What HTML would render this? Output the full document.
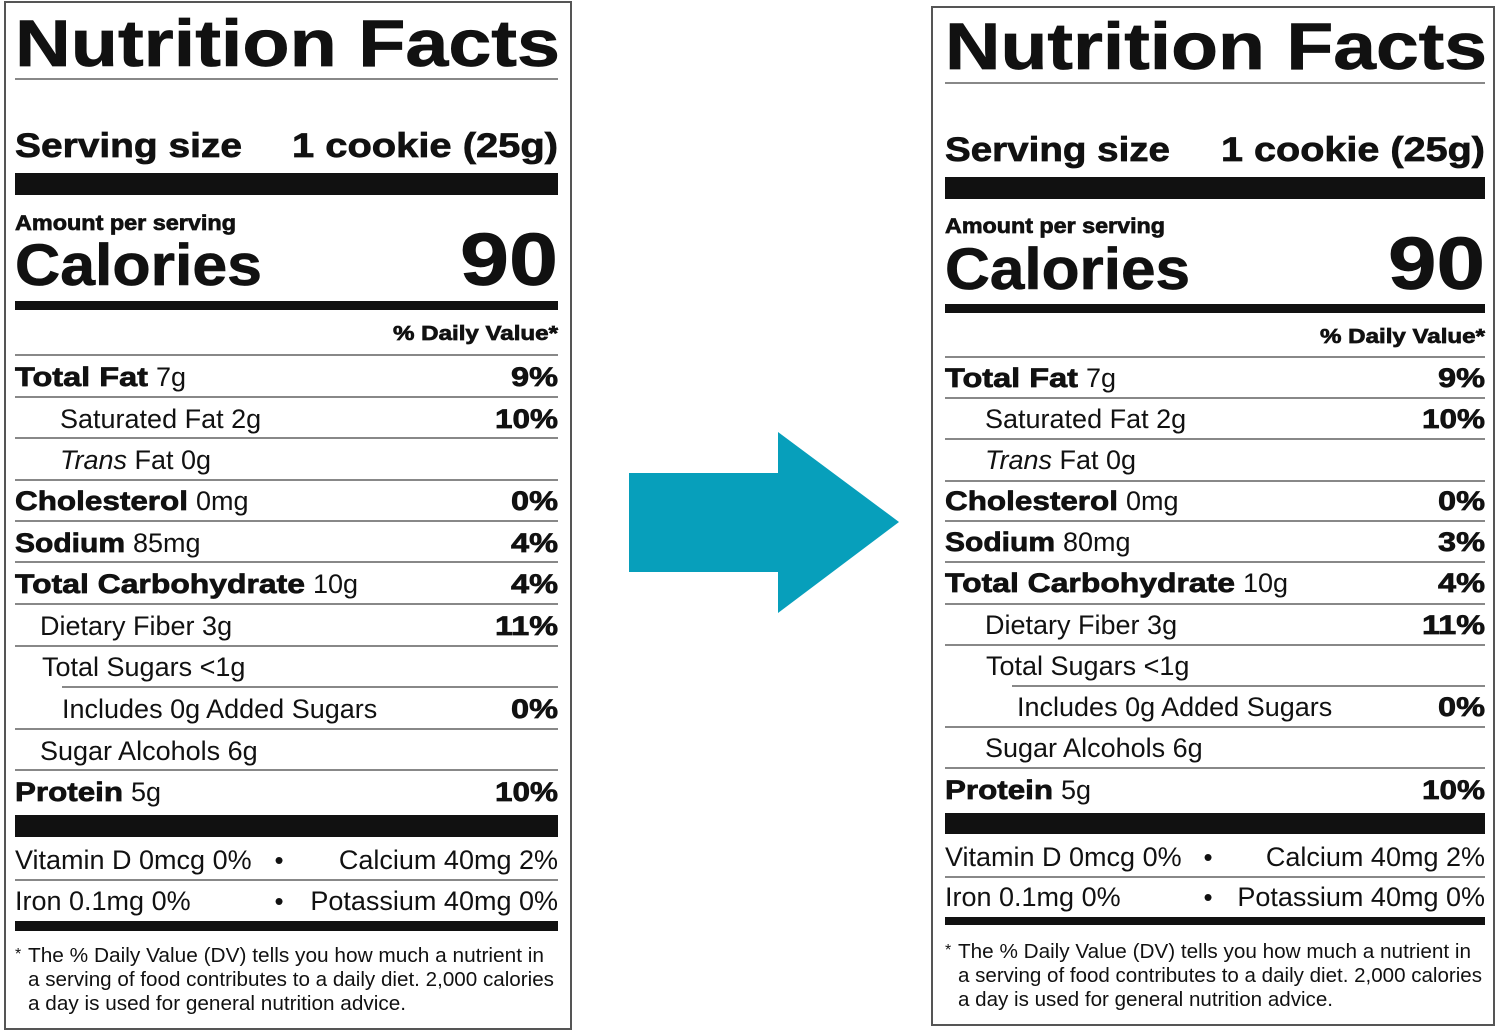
<!DOCTYPE html>
<html><head><meta charset="utf-8"><style>
html,body{margin:0;padding:0;background:#fff;width:1500px;height:1032px;overflow:hidden}
svg{display:block}
text{font-family:"Liberation Sans",Arial,sans-serif;fill:#111}
.b{font-weight:bold;stroke:#111;stroke-width:0.7}
</style></head><body>
<svg id="s" width="1500" height="1032" viewBox="0 0 1500 1032" xmlns="http://www.w3.org/2000/svg">
<polygon points="629,473 778,473 778,432 899,522 778,613 778,572 629,572" fill="#079fbb"/>
</svg>
<script>
const NS='http://www.w3.org/2000/svg';
const svg=document.getElementById('s');
const rowLabels=['Total Fat','Saturated Fat','Trans','Cholesterol','Sodium','Total Carbohydrate','Dietary Fiber','Total Sugars','Includes','Sugar Alcohols','Protein'];
const leftAmounts=['7g','2g','0g','0mg','85mg','10g','3g','<1g','0g Added Sugars','6g','5g'];
const leftDV=['9%','10%','','0%','4%','4%','11%','','0%','','10%'];
const rightAmounts=['7g','2g','0g','0mg','80mg','10g','3g','<1g','0g Added Sugars','6g','5g'];
const rightDV=['9%','10%','','0%','3%','4%','11%','','0%','','10%'];
const boldRow=[true,false,false,true,true,true,false,false,false,false,true];
const boldW={'Total Fat':133,'Cholesterol':173,'Sodium':110,'Total Carbohydrate':290,'Protein':108};

function el(tag,attrs,parent,txt){const e=document.createElementNS(NS,tag);for(const k in attrs)e.setAttribute(k,attrs[k]);if(txt!==undefined)e.textContent=txt;(parent||svg).appendChild(e);return e;}

function panel(p,amounts,dvs,prefix){
  const g=el('g',{},svg);
  
  
  el('rect',{x:p.bx,y:p.by,width:p.bw,height:p.bh,fill:'none',stroke:'#555','stroke-width':2},g);
  const L=p.x0,R=p.x1,W=R-L;
  const t=el('text',{x:L,y:p.title,'font-size':66,'font-weight':'bold',textLength:p.titleW,lengthAdjust:'spacingAndGlyphs',class:'b','stroke-width':2.2},g,'Nutrition Facts');
  
  el('rect',{x:L,y:p.tline-1,width:W,height:2,fill:'#888'},g);
  const s1=el('text',{x:L,y:p.serv,'font-size':34,class:'b','font-weight':'bold',textLength:p.servW,lengthAdjust:'spacingAndGlyphs','stroke-width':1.2},g,'Serving size');
  
  const s2=el('text',{x:p.cookieX,y:p.serv,'font-size':34,class:'b','font-weight':'bold',textLength:R-p.cookieX,lengthAdjust:'spacingAndGlyphs','stroke-width':1.2},g,'1 cookie (25g)');
  
  el('rect',{x:L,y:p.bar1[0],width:W,height:p.bar1[1]-p.bar1[0],fill:'#111'},g);
  el('text',{x:L,y:p.amt,'font-size':21,class:'b','font-weight':'bold',textLength:p.amtW,lengthAdjust:'spacingAndGlyphs','stroke-width':0.7},g,'Amount per serving');
  const c=el('text',{x:L,y:p.cal,'font-size':58,class:'b','font-weight':'bold',textLength:p.calW,lengthAdjust:'spacingAndGlyphs','stroke-width':2},g,'Calories');
  
  const n=el('text',{x:p.nineX,y:p.cal,'font-size':74,class:'b','font-weight':'bold',textLength:R-p.nineX,lengthAdjust:'spacingAndGlyphs','stroke-width':2},g,'90');
  
  el('rect',{x:L,y:p.bar2[0],width:W,height:p.bar2[1]-p.bar2[0],fill:'#111'},g);
  el('text',{x:R-165,y:p.dv,'font-size':20,class:'b','font-weight':'bold',textLength:165,lengthAdjust:'spacingAndGlyphs','stroke-width':0.6},g,'% Daily Value*');
  el('rect',{x:L,y:p.lines[0]-1,width:W,height:2,fill:'#888'},g);
  for(let i=0;i<rowLabels.length;i++){
    const y=p.base[i];
    const x=L+p.ind[i];
    if(boldRow[i]){
      const lw=boldW[rowLabels[i]];
      const lab=el('text',{x:x,y:y,'font-size':27,'font-weight':'bold',class:'b','stroke-width':1,textLength:lw,lengthAdjust:'spacingAndGlyphs'},g,rowLabels[i]);
      
      
      el('text',{x:x+lw+8,y:y,'font-size':27},g,amounts[i]);
    } else {
      const tx=el('text',{x:x,y:y,'font-size':27},g);
      
      
      const lab=el('tspan',{},tx,rowLabels[i]);
      if(i===2)lab.setAttribute('font-style','italic');
      el('tspan',{},tx,(i===2?' Fat ':' ')+amounts[i]);
    }
    if(dvs[i]){
      const dw=dvs[i].length===3?63:47;
      el('text',{x:R-dw,y:y,'font-size':27,'font-weight':'bold',class:'b','stroke-width':1,textLength:dw,lengthAdjust:'spacingAndGlyphs'},g,dvs[i]);
    }
    if(i<10){const ly=p.lines[i+1];const sx=(i===7)?p.incLine:L;el('rect',{x:sx,y:ly-1,width:R-sx,height:2,fill:'#888'},g);}
  }
  el('rect',{x:L,y:p.bar3[0],width:W,height:p.bar3[1]-p.bar3[0],fill:'#111'},g);
  el('text',{x:L,y:p.vit,'font-size':27},g,'Vitamin D 0mcg 0%');
  el('text',{x:p.bullet,y:p.vit,'font-size':26,'text-anchor':'middle'},g,'•');
  el('text',{x:R,y:p.vit,'font-size':27,'text-anchor':'end'},g,'Calcium 40mg 2%');
  el('rect',{x:L,y:p.vline-1,width:W,height:2,fill:'#888'},g);
  el('text',{x:L,y:p.iron,'font-size':27},g,'Iron 0.1mg 0%');
  el('text',{x:p.bullet,y:p.iron,'font-size':26,'text-anchor':'middle'},g,'•');
  el('text',{x:R,y:p.iron,'font-size':27,'text-anchor':'end'},g,'Potassium 40mg 0%');
  el('rect',{x:L,y:p.bar4[0],width:W,height:p.bar4[1]-p.bar4[0],fill:'#111'},g);
  const fn=['The % Daily Value (DV) tells you how much a nutrient in','a serving of food contributes to a daily diet. 2,000 calories','a day is used for general nutrition advice.'];
  el('text',{x:L,y:p.foot[0]-3,'font-size':16},g,'*');
  fn.forEach((f,i)=>{el('text',{x:L+13,y:p.foot[i],'font-size':20,textLength:p.footW[i],lengthAdjust:'spacingAndGlyphs'},g,f);});
}
const left={bx:5,by:2,bw:566,bh:1027,x0:15,x1:558,title:66,titleW:545,tline:79,serv:157,servW:227,cookieX:292,bar1:[173,195],amt:230,amtW:221,cal:285,calW:247,nineX:460,bar2:[301,310],dv:340,
 lines:[355,397,438,480,521,562,604,646,687,729,770],base:[386,428,469,510,552,593,635,676,718,760,801],ind:[0,45,45,0,0,0,25,27,47,25,0],incLine:62,
 bar3:[815,837],vit:869,vline:880,iron:910,bullet:279,bar4:[921,931],foot:[962,986,1010],footW:[516,526,378]};
const right={bx:932,by:7,bw:562,bh:1018,x0:945,x1:1485,title:69,titleW:542,tline:83,serv:161,servW:225,cookieX:1221,bar1:[177,199],amt:233,amtW:220,cal:289,calW:245,nineX:1388,bar2:[304,313],dv:343,
 lines:[357,398,439,481,521,562,604,645,686,727,768],base:[387,428,469,510,551,592,634,675,716,757,799],ind:[0,40,40,0,0,0,40,41,72,40,0],incLine:1012,
 bar3:[813,834],vit:866,vline:877,iron:906,bullet:1208,bar4:[917,925],foot:[958,982,1006],footW:[513,524,375]};
panel(left,leftAmounts,leftDV,'before');
panel(right,rightAmounts,rightDV,'after');
</script>
</body></html>
